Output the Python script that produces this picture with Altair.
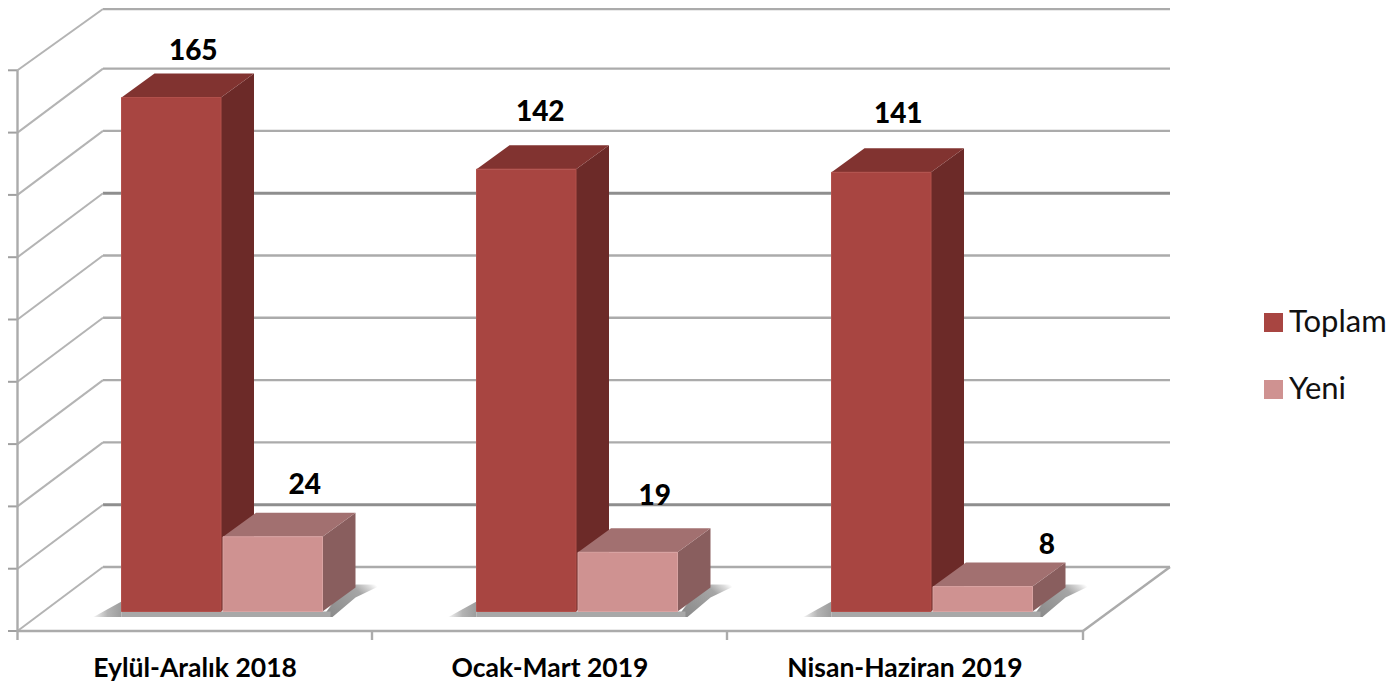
import altair as alt
import pandas as pd

categories = ["Eylül-Aralık 2018", "Ocak-Mart 2019", "Nisan-Haziran 2019"]
toplam = [165, 142, 141]
yeni = [24, 19, 8]
series_names = ["Toplam", "Yeni"]
grid_values = list(range(0, 200, 20))
heavy_grid = [20, 120]  # levels drawn heavier on the back wall

# ---- layout (page pixels), turned into data units for the scales
W, H = 1380, 677
PX_PER_GROUP, X0 = 355.0, 17.5
PX_PER_UNIT, BASE = 3.115, 611.5
def ux(px): return (px - X0) / PX_PER_GROUP
def uw(px): return px / PX_PER_GROUP
def uy(py): return (BASE - py) / PX_PER_UNIT
def uh(px): return px / PX_PER_UNIT

BAR_L = [104.0, 205.5]   # bar left edge within a group
BAR_W = 99.5
DX, DY = 33, 24
FLOOR_FRONT, FLOOR_BACK, WALL_DX = uy(631), uy(567), 85.5
RIGHT_FRONT, RIGHT_BACK = 1083, 1170
COLORS = {
    "Toplam": dict(front="#A84541", top="#813330", side="#6C2A28", edge="#B2504B", glow="#D9726C"),
    "Yeni": dict(front="#CF9291", top="#A27070", side="#895E5E", edge="#D9A3A2", glow="#EDC4C3"),
}
# data label anchors relative to the bar's front top centre (px)
LABEL_OFFSET = {"Toplam": [(22, -47), (14, -58), (17, -59)],
                "Yeni": [(32, -52), (27, -57), (64, -42)]}

xs = alt.Scale(domain=[ux(8), ux(8 + W)], range=[0, W], nice=False, zero=False)
ys = alt.Scale(domain=[uy(8 + H), uy(9)], range=[H, 1], nice=False, zero=False, clamp=True)
X = lambda f="x": alt.X(f"{f}:Q", scale=xs, axis=None)
Y = lambda f="y": alt.Y(f"{f}:Q", scale=ys, axis=None, stack=None)

# ---- walls and floor
grid_rows, wall_rows, tick_rows = [], [], []
for v in grid_values:
    yb, yf = FLOOR_BACK + v, FLOOR_FRONT + v
    grid_rows.append(dict(x=ux(X0 + WALL_DX), x2=ux(RIGHT_BACK), y=yb, y2=yb, v=v))
    wall_rows.append(dict(x=ux(X0), x2=ux(X0 + WALL_DX), y=yf, y2=yb))
    tick_rows.append(dict(x=ux(8), x2=ux(X0), y=yf, y2=yf))
floor_rows = [
    dict(x=ux(X0), x2=ux(RIGHT_FRONT), y=FLOOR_FRONT, y2=FLOOR_FRONT),
    dict(x=ux(RIGHT_FRONT), x2=ux(RIGHT_BACK), y=FLOOR_FRONT, y2=FLOOR_BACK),
    dict(x=ux(X0), x2=ux(X0), y=FLOOR_FRONT, y2=FLOOR_FRONT + grid_values[-1]),
]
for i in range(4):
    px = [X0, 372, 727, RIGHT_FRONT][i]
    floor_rows.append(dict(x=ux(px), x2=ux(px), y=FLOOR_FRONT, y2=FLOOR_FRONT - uh(9)))

def rules(rows, color, width):
    return alt.Chart(pd.DataFrame(rows)).mark_rule(color=color, strokeWidth=width).encode(
        x=X(), x2="x2:Q", y=Y(), y2="y2:Q")

back_light = rules([r for r in grid_rows if r["v"] not in heavy_grid], "#ABABAB", 2.4)
back_heavy = rules([r for r in grid_rows if r["v"] in heavy_grid], "#8E8E8E", 3)
walls = rules(wall_rows, "#B4B4B4", 2)
ticks = rules(tick_rows, "#A0A0A0", 2)
floor = rules(floor_rows, "#ABABAB", 2.4)

# ---- floor shadows
shadow_rows_left, shadow_rows_strip, shadow_rows_right = [], [], []
for g in range(3):
    l = g + uw(BAR_L[0])
    r = g + uw(BAR_L[1] + BAR_W)
    base, low = 0, -uh(5.5)
    shadow_rows_left += [dict(id=g, x=l - uw(28), y=low, y2=low),
                         dict(id=g, x=l, y=low, y2=uh(10))]
    shadow_rows_strip += [dict(id=g, x=l, x2=r + uw(8), y=low, y2=base)]
    shadow_rows_right += [dict(id=g, x=r, y=low, y2=low),
                          dict(id=g, x=r + uw(10), y=low, y2=uh(8)),
                          dict(id=g, x=r + uw(33), y=uh(14), y2=uh(DY + 3)),
                          dict(id=g, x=r + uw(60), y=uh(DY + 3), y2=uh(DY + 3))]

def shadow_area(rows, stops, x1, y1, x2, y2):
    return alt.Chart(pd.DataFrame(rows)).mark_area(
        orient="vertical",
        color=alt.Gradient(gradient="linear", x1=x1, y1=y1, x2=x2, y2=y2,
                           stops=[alt.GradientStop(offset=o, color=c) for o, c in stops])
    ).encode(x=X(), y=Y(), y2="y2:Q", detail="id:N")

shadow_l = shadow_area(shadow_rows_left, [(0, "#F4F4F4"), (0.5, "#B4B4B4"), (1, "#9C9C9C")], 0, 0.5, 1, 0.5)
shadow_r = shadow_area(shadow_rows_right, [(0, "#8A8A8A"), (0.7, "#A6A6A6"), (0.9, "#DDDDDD"), (1, "#FFFFFF")], 0, 0.8, 1, 0.2)
shadow_s = alt.Chart(pd.DataFrame(shadow_rows_strip)).mark_rect(color="#A8A8A8").encode(
    x=X(), x2="x2:Q", y=Y(), y2="y2:Q")

# ---- bars: one front, side and top face per value
def faces(name, values, k):
    sides, tops, fronts = [], [], []
    for g, v in enumerate(values):
        l = g + uw(BAR_L[k])
        r = l + uw(BAR_W)
        sides += [dict(id=g, x=r, y=0, y2=v), dict(id=g, x=r + uw(DX), y=uh(DY), y2=v + uh(DY))]
        tops += [dict(id=g, x=l, y=v, y2=v),
                 dict(id=g, x=l + uw(DX), y=v, y2=v + uh(DY)),
                 dict(id=g, x=r, y=v, y2=v + uh(DY)),
                 dict(id=g, x=r + uw(DX), y=v + uh(DY), y2=v + uh(DY))]
        fronts.append(dict(id=g, x=l, x2=r, y=v, y2=0, series=name))
    c = COLORS[name]
    side = alt.Chart(pd.DataFrame(sides)).mark_area(orient="vertical", color=c["side"]).encode(
        x=X(), y=Y(), y2="y2:Q", detail="id:N")
    top = alt.Chart(pd.DataFrame(tops)).mark_area(orient="vertical", color=c["top"]).encode(
        x=X(), y=Y(), y2="y2:Q", detail="id:N")
    front = alt.Chart(pd.DataFrame(fronts)).mark_rect(stroke=c["edge"], strokeWidth=1).encode(
        x=X(), x2="x2:Q", y=Y(), y2="y2:Q",
        color=alt.Color("series:N",
                        scale=alt.Scale(domain=series_names, range=[COLORS[s]["front"] for s in series_names]),
                        legend=alt.Legend(title=None, orient="none", legendX=1250, legendY=299,
                                          symbolType="square", symbolSize=361, symbolStrokeWidth=0,
                                          labelFont="Lato", labelFontSize=31, labelColor="#111111",
                                          labelOffset=0, rowPadding=35, labelLimit=200, zindex=0)))
    return [side, top, front]

# ---- data labels
label_rows = []
for k, (name, values) in enumerate(zip(series_names, [toplam, yeni])):
    for g, v in enumerate(values):
        ox, oy = LABEL_OFFSET[name][g]
        label_rows.append(dict(x=g + uw(BAR_L[k] + BAR_W / 2 + ox), y=v - uh(oy + 1.5), t=str(v)))
labels = alt.Chart(pd.DataFrame(label_rows)).mark_text(
    font="Lato", fontWeight=900, fontSize=28, color="#000000", baseline="middle", align="center"
).encode(x=X(), y=Y(), text="t:N")

cat_rows = [dict(x=g + 0.5, y=uy(669), t=c) for g, c in enumerate(categories)]
cats = alt.Chart(pd.DataFrame(cat_rows)).mark_text(
    font="Lato", fontWeight="bold", fontSize=26.5, color="#000000", baseline="middle", align="center"
).encode(x=X(), y=Y(), text="t:N")

layers = [back_light, back_heavy, walls, ticks, floor, shadow_l, shadow_r, shadow_s]
layers += faces("Toplam", toplam, 0) + faces("Yeni", yeni, 1) + [labels, cats]

chart = alt.layer(*layers).properties(
    width=W, height=H, padding=0,
    autosize=alt.AutoSizeParams(type="none"),
).configure_view(stroke=None)

chart.save("out.html", embed_options={"renderer": "svg", "actions": False})
